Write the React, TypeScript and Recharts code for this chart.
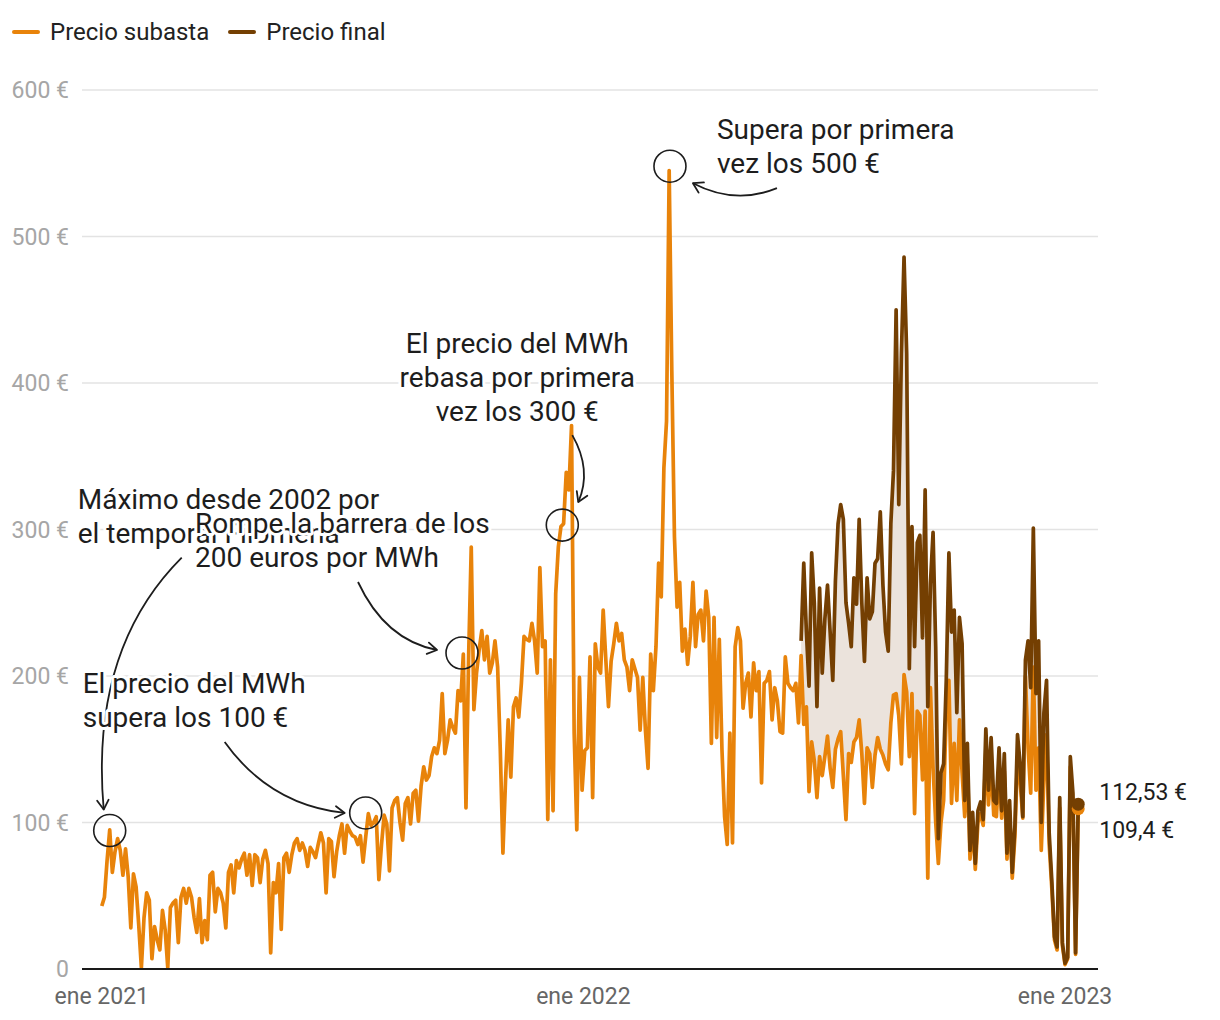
import React from 'react';
import {
  ComposedChart, Line, Area, XAxis, YAxis, CartesianGrid, ReferenceDot
} from 'recharts';

// un valor cada 2 días desde el 1 ene 2021
const PASO_DIAS = 2;
// el precio final (con el tope del gas) empieza el 15 jun 2022
const INICIO_FINAL = 530;

const subasta2021 = [
  43, 49, 74, 95, 66, 80, 89, 81, 64, 82,
  63, 28, 65, 56, 30, 1, 35, 52, 47, 7,
  29, 20, 13, 40, 27, 1, 42, 45, 47, 18,
  49, 55, 45, 55, 49, 35, 25, 48, 18, 33,
  20, 64, 66, 39, 55, 52, 45, 28, 66, 71,
  52, 74, 69, 75, 79,
  64, 78, 57, 78, 76, 59, 75, 81, 72, 11,
  59, 52, 72, 27, 76, 79, 66, 78, 86, 89,
  81, 86, 81, 70, 83, 80, 76, 85, 93, 86,
  52, 89, 87, 63, 80, 91, 99, 79, 98, 94,
  91, 90, 85, 91, 73, 90, 106, 98, 100, 104,
  61, 85, 105, 99, 67, 110,
  115, 117, 100, 88, 113, 117, 99, 120, 122, 101,
  125, 138, 129, 132, 145, 151, 147, 156, 188, 147,
  156, 170, 165, 161, 190, 183, 215, 110, 213, 288,
  177, 202, 218, 231, 211, 227, 202, 209, 224, 206,
  150, 79, 129, 170, 131, 179, 185, 172, 195, 227,
  225, 224, 236, 224,
  202, 274, 220, 224, 102, 211, 108, 256, 288, 302,
  304, 339, 327, 371, 161, 95, 199, 122,
];

const subasta2022 = [
  149, 151, 213, 117, 222, 206, 202, 245, 211, 179,
  210, 222, 236, 224, 229, 211, 206,
  190, 211, 205, 199, 163, 199, 163, 137, 215, 190,
  220, 277, 254, 342, 374, 545, 408, 295, 247, 264,
  217, 232, 208, 227, 264, 220, 242, 245, 224, 258,
  240, 154, 240, 158, 225, 150, 104, 85, 161, 86,
  220, 233, 224, 178, 195, 202, 172, 209, 190, 203,
  127, 195, 197, 203, 170, 192, 183, 162, 161, 213,
  195, 192, 190, 195, 168,
  214, 167, 179, 121, 155, 142, 117, 145, 132, 145,
  159, 137, 124, 150, 157, 162, 132, 102, 147, 141,
  155, 158, 170, 147, 113, 151, 147, 124, 146, 158,
  150, 146, 140, 136, 168, 187, 188, 173, 140, 201,
  189, 145, 188, 106, 176, 173, 129, 176, 62, 192,
  137, 100, 72, 100, 115, 175, 197, 113, 154, 115,
  170, 134, 104,
  140, 75, 100, 68, 100, 106, 98, 150, 112, 140,
  105, 104, 138, 103, 135, 75, 108, 62, 90, 145,
  128, 103, 200, 151, 120, 206, 122, 151, 81, 129,
  160, 85, 55, 20, 13, 110, 16, 3, 7, 138,
  114, 10, 109.4,
];

const precioFinal = [
  224, 277, 230, 193, 284, 250, 179, 260, 202, 239,
  262, 230, 197, 265, 304, 317, 307, 250, 236, 220,
  267, 249, 307, 250, 210, 267, 239, 244, 277, 280,
  312, 262, 230, 217, 304, 340, 450, 317, 420, 486,
  420, 205, 302, 220, 291, 296, 226, 327, 179, 263,
  298, 220, 89, 134, 140, 197, 284, 230, 245, 175,
  240, 222, 115, 154, 81, 107, 72, 108, 114, 102,
  164, 122, 158, 115, 113, 151, 108, 147, 79, 115,
  66, 97, 160, 140, 104, 211, 224, 192, 301, 188,
  224, 100, 175, 197, 93, 60, 22, 15, 117, 18,
  4, 8, 145, 120, 11, 112.53,
];

const ticksX = [0, 365, 730];
const etiquetasX = ['ene 2021', 'ene 2022', 'ene 2023'];
const ticksY = [0, 100, 200, 300, 400, 500, 600];

const NARANJA = '#e8830a';
const MARRON = '#743f02';
const TEXTO = '#1d1d1d';
const FUENTE = 'Roboto, sans-serif';

const subasta = [...subasta2021, ...subasta2022];
const data = subasta.map((v, i) => {
  const dia = i * PASO_DIAS;
  const f = dia >= INICIO_FINAL ? precioFinal[(dia - INICIO_FINAL) / PASO_DIAS] : null;
  return { dia, subasta: v, final: f, rango: f != null ? [v, f] : null };
});

const notas = [
  { dia: 6, valor: 94.5, lineas: ['Máximo desde 2002 por', 'el temporal Filomena'], tx: -32, ty: -332, anchor: 'start', flecha: [72, -273, -20, -181, -6, -21] },
  { dia: 273, valor: 215.7, lineas: ['Rompe la barrera de los', '200 euros por MWh'], tx: -267, ty: -130, anchor: 'start', flecha: [-104, -71, -77, -13, -25, -3] },
  { dia: 200, valor: 106.5, lineas: ['El precio del MWh', 'supera los 100 €'], tx: -283, ty: -130, anchor: 'start', flecha: [-141, -71, -96, -8, -21, 0] },
  { dia: 349, valor: 303, lineas: ['El precio del MWh', 'rebasa por primera', 'vez los 300 €'], tx: -45, ty: -182, anchor: 'middle', flecha: [10, -90, 30, -55, 16, -23] },
  { dia: 430.6, valor: 548, lineas: ['Supera por primera', 'vez los 500 €'], tx: 47, ty: -37, anchor: 'start', flecha: [107, 22, 65, 39, 23, 17] },
];

const punta = (qx: number, qy: number, ex: number, ey: number) => {
  const ang = Math.atan2(ey - qy, ex - qx);
  const l = 11;
  const a = 0.55;
  const x1 = ex - l * Math.cos(ang - a), y1 = ey - l * Math.sin(ang - a);
  const x2 = ex - l * Math.cos(ang + a), y2 = ey - l * Math.sin(ang + a);
  return `M${x1},${y1} L${ex},${ey} L${x2},${y2}`;
};

const formaNota = (n: any) => (props: any) => {
  const { cx, cy } = props;
  const [sx, sy, qx, qy, ex, ey] = n.flecha;
  return (
    <g>
      <circle cx={cx} cy={cy} r={16} fill="none" stroke={TEXTO} strokeWidth={1.6} />
      <path
        d={`M${cx + sx},${cy + sy} Q${cx + qx},${cy + qy} ${cx + ex},${cy + ey}`}
        fill="none" stroke={TEXTO} strokeWidth={1.8}
      />
      <path
        d={punta(cx + qx, cy + qy, cx + ex, cy + ey)}
        fill="none" stroke={TEXTO} strokeWidth={1.8} strokeLinecap="round" strokeLinejoin="round"
      />
      <text
        textAnchor={n.anchor} fontSize={28} fontFamily={FUENTE} fill={TEXTO}
        stroke="#fff" strokeWidth={6} strokeLinejoin="round" style={{ paintOrder: 'stroke' }}
      >
        {n.lineas.map((l: string, i: number) => (
          <tspan key={i} x={cx + n.tx} y={cy + n.ty + i * 34} dy="0.36em">{l}</tspan>
        ))}
      </text>
    </g>
  );
};

const formatoEuro = (v: number) => `${String(v).replace('.', ',')} €`;

const puntoFinal = (color: string, dy: number) => (props: any) => {
  const { cx, cy, index, value } = props;
  if (index !== data.length - 1 || cx == null || cy == null) return <g key={`p${index}`} />;
  return (
    <g key={`p${index}`}>
      <circle cx={cx} cy={cy} r={6.5} fill={color} />
      <text x={cx + 21} y={cy + dy} dy="0.36em" fontSize={23} fontFamily={FUENTE} fill={TEXTO}>
        {formatoEuro(value)}
      </text>
    </g>
  );
};

const Leyenda = () => (
  <div style={{
    position: 'absolute', left: 12, top: 18, height: 28, display: 'flex', alignItems: 'center',
    fontFamily: FUENTE, fontSize: 24, lineHeight: '28px', color: '#222'
  }}>
    <span style={{ width: 28, height: 4, borderRadius: 2, background: NARANJA, marginRight: 10 }} />
    <span style={{ marginRight: 19 }}>Precio subasta</span>
    <span style={{ width: 28, height: 4, borderRadius: 2, background: MARRON, marginRight: 10 }} />
    <span>Precio final</span>
  </div>
);

export default function App() {
  return (
    <div style={{ position: 'absolute', left: 0, top: 0, width: 1220, height: 1020, background: '#fff' }}>
      <Leyenda />
      <ComposedChart
        width={1220}
        height={1020}
        data={data}
        margin={{ top: 90, right: 122, bottom: 11, left: 0 }}
      >
        <CartesianGrid vertical={false} stroke="#e3e3e3" strokeWidth={1.5} />
        <XAxis
          dataKey="dia"
          type="number"
          domain={[-15, 755]}
          ticks={ticksX}
          interval={0}
          tickFormatter={(v) => etiquetasX[ticksX.indexOf(v)]}
          tick={{ fill: '#666', fontSize: 23, fontFamily: FUENTE }}
          axisLine={{ stroke: '#1a1a1a', strokeWidth: 2 }}
          tickLine={false}
          tickSize={0}
          tickMargin={19}
          height={40}
        />
        <YAxis
          domain={[0, 600]}
          ticks={ticksY}
          interval={0}
          tickFormatter={(v) => (v === 0 ? '0' : `${v} €`)}
          tick={{ fill: '#a6a6a6', fontSize: 23, fontFamily: FUENTE }}
          axisLine={false}
          tickLine={false}
          tickSize={0}
          tickMargin={13}
          width={82}
        />
        <Area
          dataKey="rango"
          stroke="none"
          fill="#ebe3dc"
          fillOpacity={1}
          dot={false}
          activeDot={false}
          isAnimationActive={false}
        />
        <Line
          dataKey="subasta"
          type="linear"
          stroke={NARANJA}
          strokeWidth={3.7}
          strokeLinejoin="round"
          dot={puntoFinal(NARANJA, 21)}
          activeDot={false}
          isAnimationActive={false}
        />
        <Line
          dataKey="final"
          type="linear"
          stroke={MARRON}
          strokeWidth={3.7}
          strokeLinejoin="round"
          dot={puntoFinal(MARRON, -12)}
          activeDot={false}
          isAnimationActive={false}
        />
        {notas.map((n, i) => (
          <ReferenceDot key={i} x={n.dia} y={n.valor} r={16} shape={formaNota(n)} />
        ))}
      </ComposedChart>
    </div>
  );
}
